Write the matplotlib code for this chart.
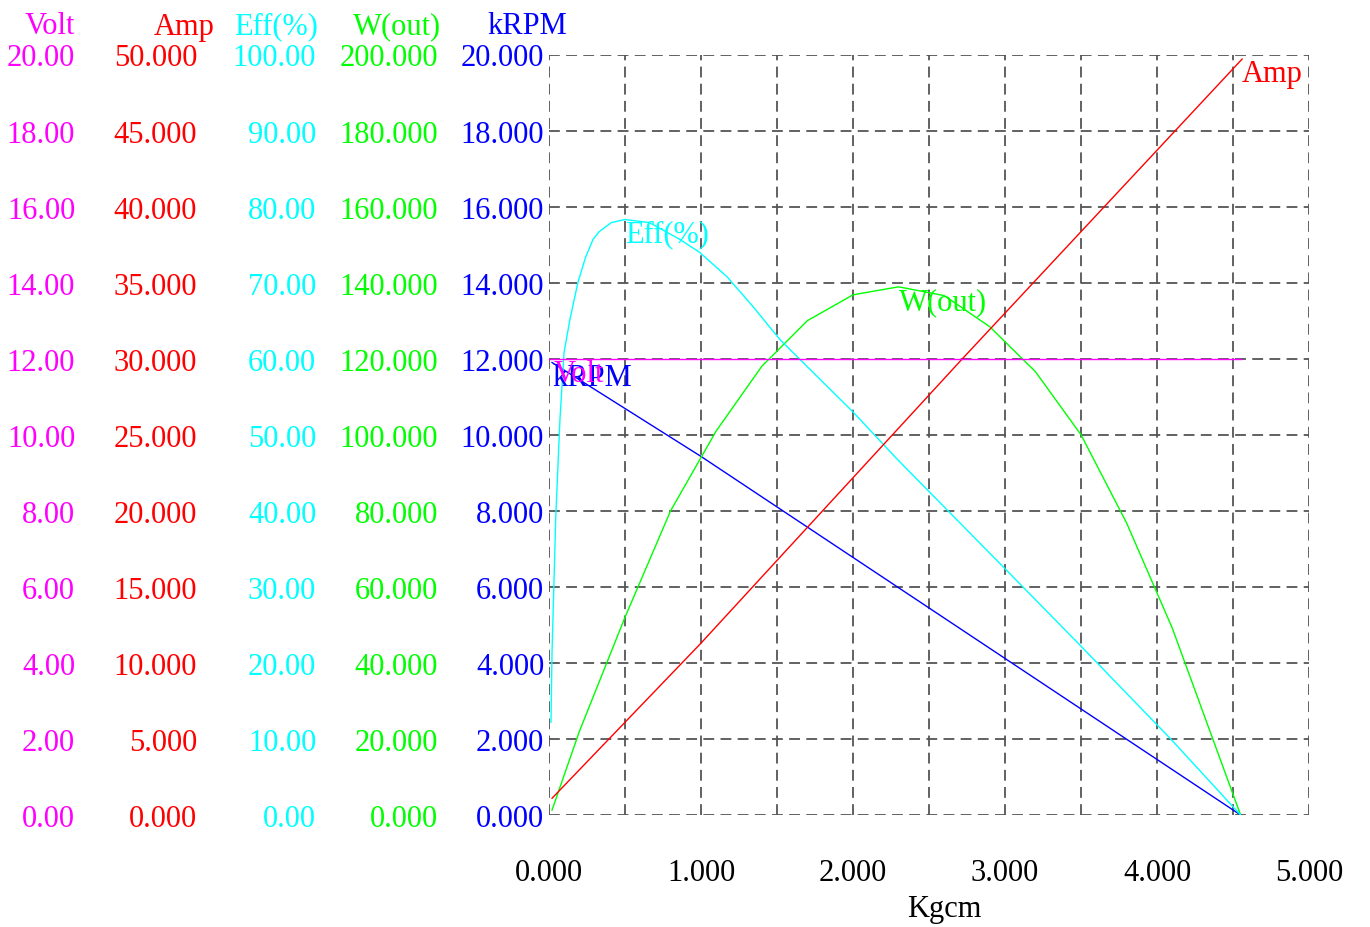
import numpy as np
import matplotlib
matplotlib.use('Agg')
import matplotlib.pyplot as plt

# curvas del motor (eje x: torque en Kgcm)
torque_volt = [0.0, 4.55]
volt = [12.0, 12.0]

torque_amp = [0.02, 1.0, 2.72, 4.56]
amp = [1.1, 11.3, 30.0, 49.7]

torque_eff = [0.013, 0.02, 0.044, 0.072, 0.099, 0.138, 0.19, 0.24, 0.29, 0.33,
              0.41, 0.50, 0.66, 0.86, 0.99, 1.17, 1.34, 1.52, 2.0, 2.29,
              2.96, 3.5, 4.09, 4.55]
eff = [12.2, 21.4, 38.9, 52.0, 60.8, 65.2, 70.0, 73.3, 75.7, 76.7,
       77.9, 78.3, 77.9, 75.7, 74.0, 70.8, 66.9, 62.5, 53.0, 46.8,
       33.2, 22.2, 10.0, 0.0]

torque_w = [0.02, 0.2, 0.5, 0.8, 1.1, 1.4, 1.7, 2.0, 2.3, 2.6, 2.9, 3.2,
            3.5, 3.8, 4.1, 4.55]
w_out = [1.3, 22.0, 52.0, 80.0, 101.0, 118.0, 130.0, 136.8, 138.9, 136.6,
         128.4, 116.6, 100.0, 76.8, 49.2, 0.0]

torque_rpm = [0.02, 1.0, 4.55]
krpm = [11.9, 9.43, 0.0]

MAGENTA, RED, CYAN, GREEN, BLUE = '#ff00ff', '#ff0000', '#00ffff', '#00ff00', '#0000ff'

plt.rcParams['font.family'] = ['Liberation Serif', 'DejaVu Serif']
FS = 22

fig = plt.figure(figsize=(13.7, 9.28), dpi=100)
ax = fig.add_axes([549 / 1370, 1 - 816 / 928, 760 / 1370, 760.5 / 928])

# eje principal: kRPM
ax.set_xlim(0, 5)
ax.set_ylim(0, 20)
ax.set_xticks(np.arange(0, 5.01, 1.0))
ax.set_xticks(np.arange(0.5, 5.0, 1.0), minor=True)
ax.set_yticks(np.arange(0, 20.01, 2))
ax.xaxis.set_major_formatter(matplotlib.ticker.FormatStrFormatter('%.3f'))
ax.yaxis.set_major_formatter(matplotlib.ticker.FormatStrFormatter('%.3f'))
ax.tick_params(axis='x', which='both', length=0, pad=31, labelsize=FS)
ax.tick_params(axis='y', length=0, pad=3.5, labelsize=FS, labelcolor=BLUE)
ax.grid(True, which='both', color='#555555', linestyle=(0, (6, 3.5)), linewidth=1.3)
for s in ax.spines.values():
    s.set_visible(False)
ax.set_xlabel('Kgcm', fontsize=FS)
ax.xaxis.set_label_coords(0.52, -0.104)


def eje_extra(ymax, fmt, color, frac):
    # eje adicional a la izquierda, solo con numeros de color
    a = ax.twinx()
    a.set_ylim(0, ymax)
    a.set_yticks(np.linspace(0, ymax, 11))
    a.yaxis.set_ticks_position('left')
    a.spines['left'].set_position(('axes', -frac))
    for s in a.spines.values():
        s.set_visible(False)
    a.yaxis.set_major_formatter(matplotlib.ticker.FormatStrFormatter(fmt))
    a.tick_params(axis='y', length=0, pad=3.5, labelsize=FS, labelcolor=color)
    return a


ax_w = eje_extra(200, '%.3f', GREEN, 0.1395)
ax_eff = eje_extra(100, '%.2f', CYAN, 0.300)
ax_amp = eje_extra(50, '%.3f', RED, 0.4566)
ax_volt = eje_extra(20, '%.2f', MAGENTA, 0.617)

# curvas
ax_w.plot(torque_w, w_out, color=GREEN, lw=1)
ax_eff.plot(torque_eff, eff, color=CYAN, lw=1)
ax_amp.plot(torque_amp, amp, color=RED, lw=1)
ax.plot(torque_rpm, krpm, color=BLUE, lw=1, zorder=5)
ax_volt.plot(torque_volt, volt, color=MAGENTA, lw=1)

# etiquetas sobre las curvas
i_eff = int(np.argmax(eff))
ax_eff.text(torque_eff[i_eff], eff[i_eff], 'Eff(%)', color=CYAN, fontsize=FS,
            ha='left', va='top')
i_w = int(np.argmax(w_out))
ax_w.text(torque_w[i_w], w_out[i_w], 'W(out)', color=GREEN, fontsize=FS,
          ha='left', va='top')
ax_amp.text(torque_amp[-1], amp[-1], 'Amp', color=RED, fontsize=FS,
            ha='left', va='top')
ax_volt.text(torque_rpm[0], krpm[0], 'kRPM', color=BLUE, fontsize=FS,
             ha='left', va='top')
ax_volt.text(torque_volt[0] + 0.03, volt[0], 'Volt', color=MAGENTA, fontsize=FS,
             ha='left', va='top')

# encabezados de columnas
encabezados = [('Volt', 75, MAGENTA), ('Amp', 215, RED), ('Eff(%)', 318, CYAN),
               ('W(out)', 441, GREEN), ('kRPM', 567, BLUE)]
for txt, xr, col in encabezados:
    fig.text(xr / 1370, 1 - 27 / 928, txt, color=col, fontsize=FS,
             ha='right', va='center')

plt.savefig('out.png', dpi=100)
plt.close()
